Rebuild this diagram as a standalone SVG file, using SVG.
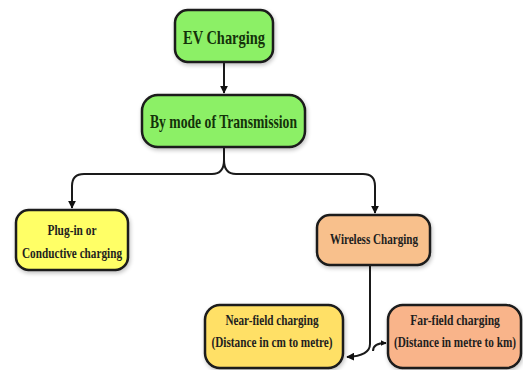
<svg xmlns="http://www.w3.org/2000/svg" width="523" height="370" viewBox="0 0 523 370">
<defs>
<marker id="ah" viewBox="0 0 10 10" refX="9" refY="5" markerWidth="6" markerHeight="6" orient="auto" markerUnits="userSpaceOnUse">
<path d="M0,0 L10,5 L0,10 z" fill="#111"/>
</marker>
<marker id="ahs" viewBox="0 0 10 10" refX="9" refY="5" markerWidth="8" markerHeight="8" orient="auto" markerUnits="userSpaceOnUse">
<path d="M0,0 L10,5 L0,10 z" fill="#111"/>
</marker>
<filter id="sh" x="-10%" y="-10%" width="120%" height="130%">
<feGaussianBlur in="SourceAlpha" stdDeviation="2"/>
<feOffset dx="1" dy="2"/>
<feComponentTransfer><feFuncA type="linear" slope="0.25"/></feComponentTransfer>
<feMerge><feMergeNode/><feMergeNode in="SourceGraphic"/></feMerge>
</filter>
</defs>
<style>
.box{stroke:#1a1a1a;stroke-width:2.5;filter:url(#sh)}
.green{fill:#8CF066}
.yellow{fill:#FFFF66}
.orange{fill:#F8C08C}
.gold{fill:#FFE066}
.salmon{fill:#F9B48A}
text{font-family:"Liberation Serif","Times New Roman",serif;font-weight:bold;fill:#1e1e1e;text-anchor:middle;dominant-baseline:central}
.g text{fill:#14320a}
.conn{fill:none;stroke:#1a1a1a;stroke-width:2}
</style>
<rect width="523" height="370" fill="#fff"/>
<g id="connectors">
<path class="conn" d="M224,62 L224,93" marker-end="url(#ahs)"/>
<path class="conn" d="M224,147 L224,160 Q224,174 212,174 L84,174 Q72,174 72,186 L72,208" marker-end="url(#ahs)"/>
<path class="conn" d="M224,160 Q224,174 236,174 L363,174 Q375,174 375,186 L375,213" marker-end="url(#ahs)"/>
<path class="conn" d="M370,265 L370,344 Q370,356 347,357" marker-end="url(#ahs)"/>
<path class="conn" d="M373,351 Q373,343 386,343" marker-end="url(#ah)"/>
</g>
<g id="ev-charging" class="g">
<rect class="box green" x="175" y="10" width="98" height="52" rx="13"/>
<text x="224" y="37" font-size="19" textLength="82" lengthAdjust="spacingAndGlyphs">EV Charging</text>
</g>
<g id="by-mode" class="g">
<rect class="box green" x="142" y="95" width="163" height="52" rx="16"/>
<text x="223.5" y="121" font-size="19" textLength="147" lengthAdjust="spacingAndGlyphs">By mode of Transmission</text>
</g>
<g id="plug-in">
<rect class="box yellow" x="16" y="210" width="112" height="60" rx="13"/>
<text x="72" y="230" font-size="15" textLength="49" lengthAdjust="spacingAndGlyphs">Plug-in or</text>
<text x="72" y="253" font-size="15" textLength="100" lengthAdjust="spacingAndGlyphs">Conductive charging</text>
</g>
<g id="wireless">
<rect class="box orange" x="317" y="215" width="113" height="50" rx="13"/>
<text x="374" y="239" font-size="15" textLength="88" lengthAdjust="spacingAndGlyphs">Wireless Charging</text>
</g>
<g id="near-field">
<rect class="box gold" x="205" y="305" width="138" height="63" rx="15"/>
<text x="272" y="320" font-size="15" textLength="93" lengthAdjust="spacingAndGlyphs">Near-field charging</text>
<text x="272" y="342" font-size="15" textLength="121" lengthAdjust="spacingAndGlyphs">(Distance in cm to metre)</text>
</g>
<g id="far-field">
<rect class="box salmon" x="388" y="305" width="133" height="63" rx="15"/>
<text transform="translate(455,320) scale(0.77,1)" x="0" y="0" font-size="15">Far-field charging</text>
<text transform="translate(455,342) scale(0.75,1)" x="0" y="0" font-size="15">(Distance in metre to km)</text>
</g>
</svg>
